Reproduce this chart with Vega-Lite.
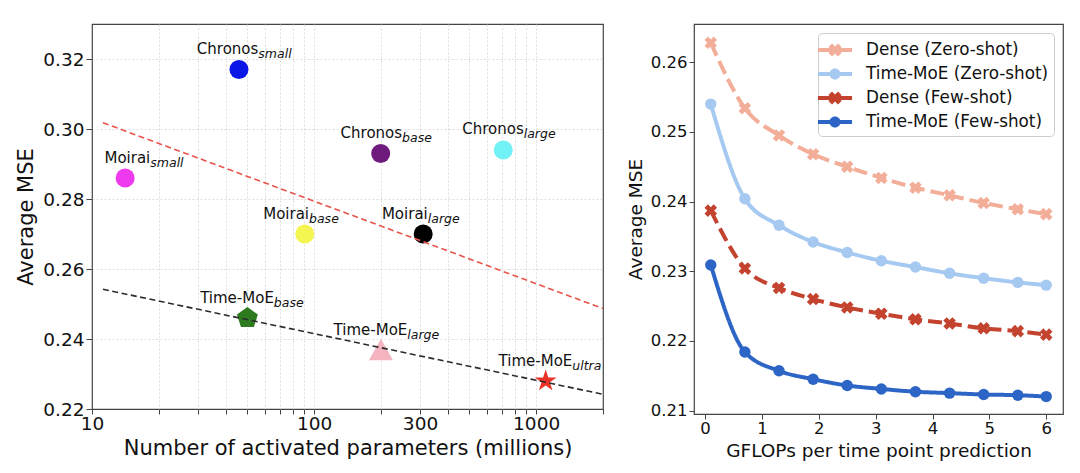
{
  "$schema": "https://vega.github.io/schema/vega-lite/v6.json",
  "background": "white",
  "padding": {"left": 15, "top": 23, "right": 0, "bottom": 0},
  "bounds": "flush",
  "spacing": 91,
  "config": {
    "font": "DejaVu Sans",
    "view": {"stroke": "#444444", "strokeWidth": 1.2},
    "axis": {"domain": false, "labelColor": "#111111", "titleColor": "#111111", "tickColor": "#444444", "titleFontWeight": "normal", "grid": false, "labelFlush": false}
  },
  "hconcat": [
    {
      "width": 511,
      "height": 385,
      "resolve": {"scale": {"color": "independent"}},
      "layer": [
        {
          "data": {"values": [
            {"model": "Moirai-small", "name": "Moirai", "sub": "small", "params": 14.1, "mse": 0.286, "labelX": 18.3, "labelY": 0.2902},
            {"model": "Chronos-small", "name": "Chronos", "sub": "small", "params": 45.9, "mse": 0.317, "labelX": 56.1, "labelY": 0.3213},
            {"model": "Chronos-base", "name": "Chronos", "sub": "base", "params": 199.5, "mse": 0.293, "labelX": 249, "labelY": 0.2973},
            {"model": "Chronos-large", "name": "Chronos", "sub": "large", "params": 711, "mse": 0.294, "labelX": 879, "labelY": 0.2985},
            {"model": "Moirai-base", "name": "Moirai", "sub": "base", "params": 90.8, "mse": 0.27, "labelX": 94.9, "labelY": 0.2742},
            {"model": "Moirai-large", "name": "Moirai", "sub": "large", "params": 310, "mse": 0.27, "labelX": 325, "labelY": 0.2742},
            {"model": "Time-MoE-base", "name": "Time-MoE", "sub": "base", "params": 50.1, "mse": 0.246, "labelX": 65.9, "labelY": 0.2504},
            {"model": "Time-MoE-large", "name": "Time-MoE", "sub": "large", "params": 200, "mse": 0.237, "labelX": 263, "labelY": 0.2411},
            {"model": "Time-MoE-ultra", "name": "Time-MoE", "sub": "ultra", "params": 1104, "mse": 0.228, "labelX": 1455, "labelY": 0.2323}
          ]},
          "layer": [
            {
              "mark": {"type": "point", "filled": true, "opacity": 1, "size": 361},
              "encoding": {
                "x": {"field": "params", "type": "quantitative", "scale": {"type": "log", "domain": [10, 2000], "nice": false},
                  "axis": {"title": "Number of activated parameters (millions)", "values": [10, 20, 30, 40, 50, 60, 70, 80, 90, 100, 200, 300, 400, 500, 600, 700, 800, 900, 1000, 2000],
                    "labelExpr": "indexof([10, 100, 300, 1000], datum.value) >= 0 ? format(datum.value, 'd') : ''",
                    "labelOverlap": false, "grid": true, "gridColor": "#d4d4d4", "gridDash": [2, 2], "gridWidth": 0.8,
                    "gridOpacity": {"condition": {"test": "datum.value == 10 || datum.value == 2000", "value": 0}, "value": 1},
                    "labelFontSize": 18.5, "titleFontSize": 21, "tickSize": 5, "labelPadding": 0, "titlePadding": 5}},
                "y": {"field": "mse", "type": "quantitative", "scale": {"domain": [0.22, 0.33], "nice": false, "zero": false},
                  "axis": {"title": "Average MSE", "values": [0.22, 0.24, 0.26, 0.28, 0.3, 0.32], "format": ".2f", "grid": true, "gridColor": "#d4d4d4", "gridDash": [2, 2], "gridWidth": 0.8,
                    "gridOpacity": {"condition": {"test": "datum.value < 0.225", "value": 0}, "value": 1},
                    "labelFontSize": 18.5, "titleFontSize": 21, "tickSize": 6, "labelPadding": 2, "titlePadding": 6}},
                "color": {"field": "model", "type": "nominal", "legend": null,
                  "scale": {"domain": ["Moirai-small", "Chronos-small", "Chronos-base", "Chronos-large", "Moirai-base", "Moirai-large", "Time-MoE-base", "Time-MoE-large", "Time-MoE-ultra"],
                    "range": ["#ee3aee", "#0b17e6", "#6f1a7d", "#72f2f6", "#f5f552", "#000000", "#2e7a1f", "#f4b5c1", "#e83428"]}},
                "shape": {"field": "model", "type": "nominal", "legend": null,
                  "scale": {"domain": ["Moirai-small", "Chronos-small", "Chronos-base", "Chronos-large", "Moirai-base", "Moirai-large", "Time-MoE-base", "Time-MoE-large", "Time-MoE-ultra"],
                    "range": ["circle", "circle", "circle", "circle", "circle", "circle",
                      "M0,-1.158L1.101,-0.358L0.681,0.937L-0.681,0.937L-1.101,-0.358Z",
                      "M0,-1.14L1.263,1.14L-1.263,1.14Z",
                      "M0,-1.21L0.272,-0.374L1.151,-0.374L0.44,0.143L0.711,0.979L0,0.462L-0.711,0.979L-0.44,0.143L-1.151,-0.374L-0.272,-0.374Z"]}}
              }
            },
            {
              "mark": {"type": "text", "align": "right", "baseline": "alphabetic", "fontSize": 15, "color": "#111111"},
              "encoding": {
                "x": {"field": "labelX", "type": "quantitative", "scale": {"type": "log", "domain": [10, 2000], "nice": false}},
                "y": {"field": "labelY", "type": "quantitative", "scale": {"domain": [0.22, 0.33], "nice": false, "zero": false}},
                "text": {"field": "name"}
              }
            },
            {
              "mark": {"type": "text", "align": "left", "baseline": "alphabetic", "fontSize": 12.5, "fontStyle": "italic", "dy": 4, "color": "#111111"},
              "encoding": {
                "x": {"field": "labelX", "type": "quantitative", "scale": {"type": "log", "domain": [10, 2000], "nice": false}},
                "y": {"field": "labelY", "type": "quantitative", "scale": {"domain": [0.22, 0.33], "nice": false, "zero": false}},
                "text": {"field": "sub"}
              }
            }
          ]
        },
        {
          "data": {"values": [
            {"fit": "Baselines", "params": 11.2, "mse": 0.3018},
            {"fit": "Baselines", "params": 2000, "mse": 0.2487},
            {"fit": "Time-MoE", "params": 11.2, "mse": 0.2542},
            {"fit": "Time-MoE", "params": 2000, "mse": 0.2242}
          ]},
          "mark": {"type": "line", "strokeWidth": 1.6, "strokeDash": [6, 3.5]},
          "encoding": {
            "x": {"field": "params", "type": "quantitative", "scale": {"type": "log", "domain": [10, 2000], "nice": false}},
            "y": {"field": "mse", "type": "quantitative", "scale": {"domain": [0.22, 0.33], "nice": false, "zero": false}},
            "color": {"field": "fit", "type": "nominal", "legend": null, "scale": {"domain": ["Baselines", "Time-MoE"], "range": ["#e8544b", "#2b2b2b"]}}
          }
        }
      ]
    },
    {
      "width": 369,
      "height": 390,
      "data": {"values": [
        {"series": "Dense (Zero-shot)", "gflops": 0.1, "mse": 0.2628},
        {"series": "Dense (Zero-shot)", "gflops": 0.7, "mse": 0.2534},
        {"series": "Dense (Zero-shot)", "gflops": 1.3, "mse": 0.2495},
        {"series": "Dense (Zero-shot)", "gflops": 1.9, "mse": 0.2468},
        {"series": "Dense (Zero-shot)", "gflops": 2.5, "mse": 0.245},
        {"series": "Dense (Zero-shot)", "gflops": 3.1, "mse": 0.2434},
        {"series": "Dense (Zero-shot)", "gflops": 3.7, "mse": 0.242},
        {"series": "Dense (Zero-shot)", "gflops": 4.3, "mse": 0.2409},
        {"series": "Dense (Zero-shot)", "gflops": 4.9, "mse": 0.2398},
        {"series": "Dense (Zero-shot)", "gflops": 5.5, "mse": 0.2389},
        {"series": "Dense (Zero-shot)", "gflops": 6.0, "mse": 0.2382},
        {"series": "Time-MoE (Zero-shot)", "gflops": 0.1, "mse": 0.254},
        {"series": "Time-MoE (Zero-shot)", "gflops": 0.7, "mse": 0.2404},
        {"series": "Time-MoE (Zero-shot)", "gflops": 1.3, "mse": 0.2366},
        {"series": "Time-MoE (Zero-shot)", "gflops": 1.9, "mse": 0.2342},
        {"series": "Time-MoE (Zero-shot)", "gflops": 2.5, "mse": 0.2327},
        {"series": "Time-MoE (Zero-shot)", "gflops": 3.1, "mse": 0.2315},
        {"series": "Time-MoE (Zero-shot)", "gflops": 3.7, "mse": 0.2306},
        {"series": "Time-MoE (Zero-shot)", "gflops": 4.3, "mse": 0.2297},
        {"series": "Time-MoE (Zero-shot)", "gflops": 4.9, "mse": 0.229},
        {"series": "Time-MoE (Zero-shot)", "gflops": 5.5, "mse": 0.2284},
        {"series": "Time-MoE (Zero-shot)", "gflops": 6.0, "mse": 0.228},
        {"series": "Dense (Few-shot)", "gflops": 0.1, "mse": 0.2387},
        {"series": "Dense (Few-shot)", "gflops": 0.7, "mse": 0.2304},
        {"series": "Dense (Few-shot)", "gflops": 1.3, "mse": 0.2276},
        {"series": "Dense (Few-shot)", "gflops": 1.9, "mse": 0.226},
        {"series": "Dense (Few-shot)", "gflops": 2.5, "mse": 0.2248},
        {"series": "Dense (Few-shot)", "gflops": 3.1, "mse": 0.2239},
        {"series": "Dense (Few-shot)", "gflops": 3.7, "mse": 0.2231},
        {"series": "Dense (Few-shot)", "gflops": 4.3, "mse": 0.2225},
        {"series": "Dense (Few-shot)", "gflops": 4.9, "mse": 0.2218},
        {"series": "Dense (Few-shot)", "gflops": 5.5, "mse": 0.2214},
        {"series": "Dense (Few-shot)", "gflops": 6.0, "mse": 0.2209},
        {"series": "Time-MoE (Few-shot)", "gflops": 0.1, "mse": 0.2309},
        {"series": "Time-MoE (Few-shot)", "gflops": 0.7, "mse": 0.2184},
        {"series": "Time-MoE (Few-shot)", "gflops": 1.3, "mse": 0.2157},
        {"series": "Time-MoE (Few-shot)", "gflops": 1.9, "mse": 0.2145},
        {"series": "Time-MoE (Few-shot)", "gflops": 2.5, "mse": 0.2136},
        {"series": "Time-MoE (Few-shot)", "gflops": 3.1, "mse": 0.2131},
        {"series": "Time-MoE (Few-shot)", "gflops": 3.7, "mse": 0.2127},
        {"series": "Time-MoE (Few-shot)", "gflops": 4.3, "mse": 0.2125},
        {"series": "Time-MoE (Few-shot)", "gflops": 4.9, "mse": 0.2123},
        {"series": "Time-MoE (Few-shot)", "gflops": 5.5, "mse": 0.2122},
        {"series": "Time-MoE (Few-shot)", "gflops": 6.0, "mse": 0.212}
      ]},
      "encoding": {
        "x": {"field": "gflops", "type": "quantitative", "scale": {"domain": [-0.195, 6.295], "nice": false, "zero": false},
          "axis": {"title": "GFLOPs per time point prediction", "values": [0, 1, 2, 3, 4, 5, 6], "format": "d", "labelFontSize": 16.5, "titleFontSize": 18.5, "tickSize": 5, "labelPadding": 1, "titlePadding": 5}},
        "y": {"field": "mse", "type": "quantitative", "scale": {"domain": [0.2095, 0.2655], "nice": false, "zero": false},
          "axis": {"title": "Average MSE", "values": [0.21, 0.22, 0.23, 0.24, 0.25, 0.26], "format": ".2f", "labelFontSize": 16.5, "titleFontSize": 18.5, "tickSize": 5, "labelPadding": 2, "titlePadding": 5}}
      },
      "resolve": {"scale": {"color": "independent", "shape": "independent"}},
      "layer": [
        {
          "mark": {"type": "line", "interpolate": "monotone", "strokeWidth": 4},
          "encoding": {
            "color": {"field": "series", "type": "nominal", "legend": null,
              "scale": {"domain": ["Dense (Zero-shot)", "Time-MoE (Zero-shot)", "Dense (Few-shot)", "Time-MoE (Few-shot)"], "range": ["#f3ae99", "#a6c9f1", "#c3432f", "#2c65c5"]}},
            "strokeDash": {"field": "series", "type": "nominal", "legend": null,
              "scale": {"domain": ["Dense (Zero-shot)", "Time-MoE (Zero-shot)", "Dense (Few-shot)", "Time-MoE (Few-shot)"], "range": [[14, 6], [1, 0], [14, 6], [1, 0]]}}
          }
        },
        {
          "mark": {"type": "point", "filled": true, "opacity": 1, "size": 130},
          "encoding": {
            "color": {"field": "series", "type": "nominal", "legend": null,
              "scale": {"domain": ["Dense (Zero-shot)", "Time-MoE (Zero-shot)", "Dense (Few-shot)", "Time-MoE (Few-shot)"], "range": ["#f3ae99", "#a6c9f1", "#c3432f", "#2c65c5"]}},
            "shape": {"field": "series", "type": "nominal", "legend": null,
              "scale": {"domain": ["Dense (Zero-shot)", "Time-MoE (Zero-shot)", "Dense (Few-shot)", "Time-MoE (Few-shot)"],
                "range": ["M-1.1,-0.5L-0.5,-1.1L0,-0.6L0.5,-1.1L1.1,-0.5L0.6,0L1.1,0.5L0.5,1.1L0,0.6L-0.5,1.1L-1.1,0.5L-0.6,0Z", "circle", "M-1.1,-0.5L-0.5,-1.1L0,-0.6L0.5,-1.1L1.1,-0.5L0.6,0L1.1,0.5L0.5,1.1L0,0.6L-0.5,1.1L-1.1,0.5L-0.6,0Z", "circle"]}}
          }
        },
        {
          "mark": {"type": "point", "filled": true, "opacity": 1, "size": 0},
          "encoding": {
            "color": {"field": "series", "type": "nominal",
              "scale": {"domain": ["Dense (Zero-shot)", "Time-MoE (Zero-shot)", "Dense (Few-shot)", "Time-MoE (Few-shot)"], "range": ["#f3ae99", "#a6c9f1", "#c3432f", "#2c65c5"]},
              "legend": {"title": null, "orient": "top-right", "offset": 9, "padding": 5, "strokeColor": "#cccccc", "fillColor": "#ffffff", "cornerRadius": 4, "labelFontSize": 16.8, "labelColor": "#111111", "labelLimit": 400, "labelOffset": 19, "symbolSize": 576, "rowPadding": 3, "symbolStrokeWidth": 0, "symbolOpacity": 1}},
            "shape": {"field": "series", "type": "nominal",
              "scale": {"domain": ["Dense (Zero-shot)", "Time-MoE (Zero-shot)", "Dense (Few-shot)", "Time-MoE (Few-shot)"],
                "range": ["M-1.42,-0.167L-0.3,-0.167L-0.3,0.167L-1.42,0.167Z M0.3,-0.167L1.42,-0.167L1.42,0.167L0.3,0.167Z M-0.55,-0.25L-0.25,-0.55L0,-0.3L0.25,-0.55L0.55,-0.25L0.3,0L0.55,0.25L0.25,0.55L0,0.3L-0.25,0.55L-0.55,0.25L-0.3,0Z",
                  "M-1.42,-0.167L1.42,-0.167L1.42,0.167L-1.42,0.167Z M0.46,0A0.46,0.46 0 1,1 -0.46,0A0.46,0.46 0 1,1 0.46,0Z",
                  "M-1.42,-0.167L-0.3,-0.167L-0.3,0.167L-1.42,0.167Z M0.3,-0.167L1.42,-0.167L1.42,0.167L0.3,0.167Z M-0.55,-0.25L-0.25,-0.55L0,-0.3L0.25,-0.55L0.55,-0.25L0.3,0L0.55,0.25L0.25,0.55L0,0.3L-0.25,0.55L-0.55,0.25L-0.3,0Z",
                  "M-1.42,-0.167L1.42,-0.167L1.42,0.167L-1.42,0.167Z M0.46,0A0.46,0.46 0 1,1 -0.46,0A0.46,0.46 0 1,1 0.46,0Z"]},
              "legend": {"title": null, "orient": "top-right", "offset": 9, "padding": 5, "strokeColor": "#cccccc", "fillColor": "#ffffff", "cornerRadius": 4, "labelFontSize": 16.8, "labelColor": "#111111", "labelLimit": 400, "labelOffset": 19, "symbolSize": 576, "rowPadding": 3, "symbolStrokeWidth": 0, "symbolOpacity": 1}}
          }
        }
      ]
    }
  ]
}
